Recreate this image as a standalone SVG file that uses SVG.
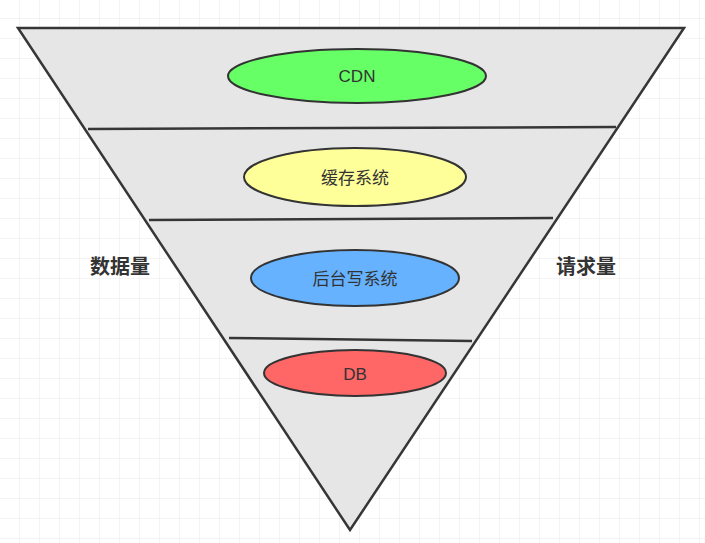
<svg xmlns="http://www.w3.org/2000/svg" width="705" height="543" viewBox="0 0 705 543">
<defs>
<pattern id="grid" width="20" height="20" patternUnits="userSpaceOnUse" x="0" y="-1">
<path d="M20 0V20M0 20H20" fill="none" stroke="#e8e8e8" stroke-width="1"/>
</pattern>
</defs>
<style>
.tri{fill:#e6e6e6;stroke:#363636;stroke-width:2.5;stroke-linejoin:miter}
.sep{stroke:#363636;stroke-width:2.5;fill:none}
.node{stroke:#333333;stroke-width:2}
.lbl{font-family:"Liberation Sans","Noto Sans CJK SC",sans-serif;font-size:17px;fill:#333333;text-anchor:middle;dominant-baseline:central}
.side{font-family:"Noto Sans CJK SC",sans-serif;font-size:20px;font-weight:bold;fill:#333333;text-anchor:middle;dominant-baseline:central}
</style>
<rect width="705" height="543" fill="#ffffff"/>
<rect width="705" height="543" fill="url(#grid)"/>
<g id="funnel">
<polygon class="tri" points="18,28 684,28 350,530"/>
</g>
<g id="connectors">
<line class="sep" x1="88" y1="129" x2="616" y2="127"/>
<line class="sep" x1="149" y1="220" x2="553" y2="218"/>
<line class="sep" x1="229" y1="338" x2="472" y2="341"/>
</g>
<g id="cdn">
<ellipse class="node" cx="357" cy="76" rx="129" ry="27" fill="#66ff66"/>
<text class="lbl" x="357" y="76">CDN</text>
</g>
<g id="cache">
<ellipse class="node" cx="355" cy="177" rx="111" ry="29" fill="#ffff99"/>
<text class="lbl" x="355" y="178">缓存系统</text>
</g>
<g id="backend">
<ellipse class="node" cx="355" cy="278" rx="104" ry="28" fill="#66b2ff"/>
<text class="lbl" x="355" y="279">后台写系统</text>
</g>
<g id="db">
<ellipse class="node" cx="355" cy="373" rx="91" ry="23" fill="#ff6666"/>
<text class="lbl" x="355" y="374">DB</text>
</g>
<g id="data-volume">
<text class="side" x="120" y="265">数据量</text>
</g>
<g id="request-volume">
<text class="side" x="586" y="265">请求量</text>
</g>
</svg>
